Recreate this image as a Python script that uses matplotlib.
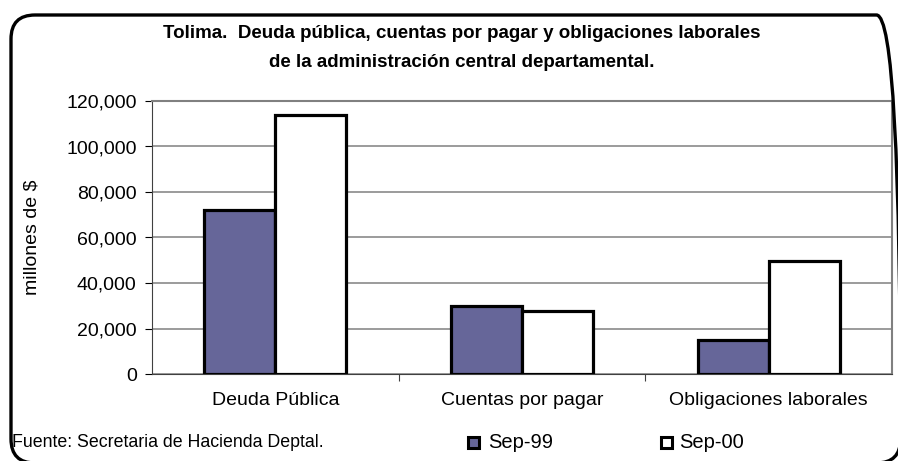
import matplotlib
matplotlib.use("Agg")
import matplotlib.pyplot as plt
from matplotlib.patches import FancyBboxPatch, Rectangle
from matplotlib.transforms import IdentityTransform
from matplotlib.ticker import FuncFormatter
import numpy as np

plt.rcParams['font.family'] = ['Liberation Sans', 'DejaVu Sans']

categories = ["Deuda Pública", "Cuentas por pagar", "Obligaciones laborales"]
sep99 = [72000, 30000, 15000]
sep00 = [114000, 27500, 49500]
series_labels = ["Sep-99", "Sep-00"]
yticks = [0, 20000, 40000, 60000, 80000, 100000, 120000]

W, H = 898, 461
fig = plt.figure(figsize=(W / 100, H / 100), dpi=100)

# rounded border (pixel coordinates, origin bottom-left)
bx0, by_top, bx1, by_bot = 11, 15, 900.5, 463
border = FancyBboxPatch((bx0, H - by_bot), bx1 - bx0, by_bot - by_top,
                        boxstyle="round,pad=0,rounding_size=24",
                        transform=IdentityTransform(), fill=False,
                        edgecolor='black', linewidth=2.4)
fig.patches.append(border)

left, right, top, bottom = 152, 892, 101, 374
ax = fig.add_axes([left / W, 1 - bottom / H, (right - left) / W, (bottom - top) / H])

x = np.arange(len(categories))
bw = 0.288
ax.bar(x - bw / 2, sep99, bw, color='#666699', edgecolor='black', linewidth=2.3, zorder=3)
ax.bar(x + bw / 2, sep00, bw, color='white', edgecolor='black', linewidth=2.3, zorder=3)

ax.set_xlim(-0.5, 2.5)
ax.set_ylim(0, 120000)
ax.set_yticks(yticks)
ax.yaxis.set_major_formatter(FuncFormatter(lambda v, p: f"{int(v):,}"))
ax.grid(axis='y', color='#808080', linewidth=1.1, zorder=0)
ax.set_xticks([0.5, 1.5], minor=False)
ax.set_xticklabels([])
ax.set_xticks(x, minor=True)
ax.set_xticklabels(categories, minor=True, fontsize=14)
ax.tick_params(axis='x', which='minor', length=0, pad=13)
ax.tick_params(axis='x', which='major', length=5, color='#404040')
ax.tick_params(axis='y', labelsize=14, length=5, color='black', pad=6)
for s in ['top', 'right']:
    ax.spines[s].set_color('#808080')
    ax.spines[s].set_linewidth(1.5)
ax.spines['left'].set_color('#404040')
ax.spines['bottom'].set_color('#404040')
ax.set_ylabel("millones de $", fontsize=14)
ax.yaxis.set_label_coords((40 - left) / (right - left), 0.5)

fig.text(462 / W, 1 - 33 / H, "Tolima.  Deuda pública, cuentas por pagar y obligaciones laborales",
         ha='center', va='center', fontsize=13.5, fontweight='bold')
fig.text(462 / W, 1 - 62 / H, "de la administración central departamental.",
         ha='center', va='center', fontsize=13.5, fontweight='bold')

fig.text(12 / W, 1 - 442 / H, "Fuente: Secretaria de Hacienda Deptal.",
         ha='left', va='center', fontsize=12.8,
         family=['Liberation Sans Narrow', 'Liberation Sans'])

# legend
for (lx, lab, col, tx) in [(474, series_labels[0], '#666699', 488), (666, series_labels[1], 'white', 679)]:
    fig.patches.append(Rectangle(((lx - 5.5) / W, 1 - 447.5 / H), 11 / W, 11 / H,
                                 transform=fig.transFigure, facecolor=col,
                                 edgecolor='black', linewidth=2.2))
    fig.text(tx / W, 1 - 442 / H, lab, ha='left', va='center', fontsize=14.5)

fig.savefig("out.png", dpi=100)
